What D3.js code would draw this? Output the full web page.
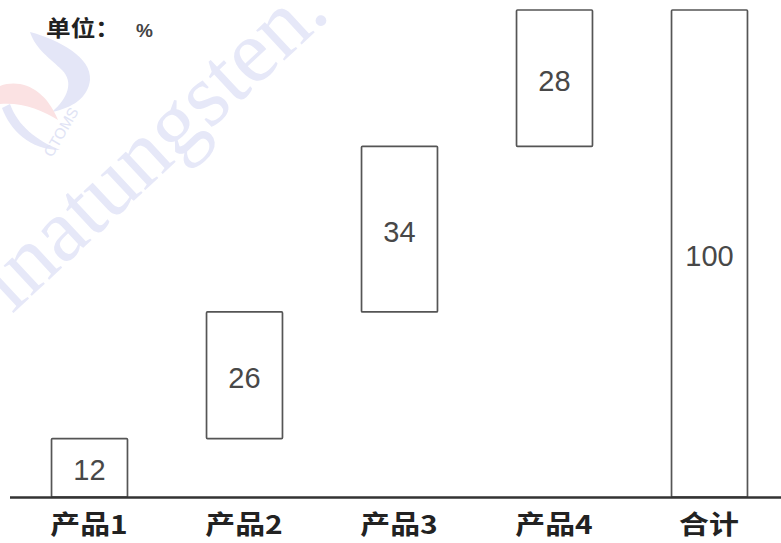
<!DOCTYPE html>
<html><head><meta charset="utf-8">
<script src="https://cdn.jsdelivr.net/npm/d3@7"></script>
<style>html,body{margin:0;padding:0;background:#fff;}svg{display:block;}</style>
</head><body>
<svg id="chart" width="781" height="543"></svg>
<script>
const categories = ["产品1", "产品2", "产品3", "产品4", "合计"];
const values = [12, 26, 34, 28, 100];
const isTotal = [false, false, false, false, true];
const unitLabel = "单位：";
const unitSymbol = "%";

const W = 781, H = 543;
const svg = d3.select("#chart");

// watermark (logo + site name)
const wm = svg.append("g");
wm.append("path")
  .attr("d", "M30,32 C60,40 92,58 90,80 C88,98 72,108 52,112 C68,98 74,82 62,70 C50,58 36,50 30,32 Z")
  .attr("fill", "#e4e6f7");
wm.append("path")
  .attr("d", "M0,86 C22,78 46,90 58,120 C42,110 22,102 0,104 Z")
  .attr("fill", "#fbe2e3");
wm.append("path")
  .attr("d", "M2,108 C10,130 30,150 60,150 C36,140 18,126 10,104 Z")
  .attr("fill", "#e4e6f7");
wm.append("text")
  .attr("transform", "translate(52,158) rotate(-60)")
  .attr("font-family", "Liberation Sans, Arial, sans-serif")
  .attr("font-size", 15)
  .attr("fill", "#e0e3f5")
  .text("CTOMS");
wm.append("text")
  .attr("transform", "translate(332,16) rotate(-43)")
  .attr("text-anchor", "end")
  .attr("font-family", "Liberation Serif, DejaVu Serif, serif")
  .attr("font-size", 90)
  .attr("fill", "#e6e8f8")
  .text("inatungsten.");

// compute waterfall ranges
let run = 0;
const bars = categories.map((c, i) => {
  let y0, y1;
  if (isTotal[i]) { y0 = 0; y1 = values[i]; }
  else { y0 = run; y1 = run + values[i]; run = y1; }
  return { cat: c, v: values[i], y0, y1 };
});

const x = d3.scaleBand().domain(categories).range([11.5, 786.5])
  .paddingInner(0.51).paddingOuter(0.255);
const y = d3.scaleLinear().domain([0, 100]).range([497, 10]);

const g = svg.append("g");
g.selectAll("rect.bar").data(bars).enter().append("rect")
  .attr("class", "bar")
  .attr("x", d => x(d.cat) + 0.5)
  .attr("y", d => y(d.y1))
  .attr("width", x.bandwidth())
  .attr("height", d => y(d.y0) - y(d.y1))
  .attr("fill", "#fff")
  .attr("stroke", "#555")
  .attr("stroke-width", 1.7)
  .attr("rx", 1);

g.selectAll("text.val").data(bars).enter().append("text")
  .attr("class", "val")
  .attr("x", d => x(d.cat) + x.bandwidth() / 2 + 0.5)
  .attr("y", d => (y(d.y0) + y(d.y1)) / 2 + 2)
  .attr("dy", "0.36em")
  .attr("text-anchor", "middle")
  .attr("font-family", "Liberation Sans, Arial, sans-serif")
  .attr("font-size", 29)
  .attr("fill", "#484848")
  .text(d => d.v);

// baseline axis
const axis = d3.axisBottom(x).tickSize(0).tickPadding(18);
const ax = svg.append("g").attr("transform", "translate(0,497.5)").call(axis);
ax.select(".domain").remove();
ax.append("line").attr("x1", 10).attr("x2", 781).attr("y1", 0).attr("y2", 0)
  .attr("stroke", "#333").attr("stroke-width", 2.5);
ax.selectAll(".tick text")
  .attr("font-family", "Noto Sans CJK SC, sans-serif")
  .attr("font-weight", "bold")
  .attr("font-size", 26)
  .attr("fill", "#222")
  .attr("transform", "scale(1.15,1)");

// unit label
svg.append("text").attr("transform", "translate(46,36) scale(1.12,1)")
  .attr("font-family", "Noto Sans CJK SC, sans-serif")
  .attr("font-weight", "bold").attr("font-size", 22).attr("fill", "#222")
  .text(unitLabel);
svg.append("text").attr("x", 136).attr("y", 37)
  .attr("font-family", "Liberation Sans, Arial, sans-serif")
  .attr("font-weight", "bold").attr("font-size", 19).attr("fill", "#444")
  .text(unitSymbol);
</script>
</body></html>
